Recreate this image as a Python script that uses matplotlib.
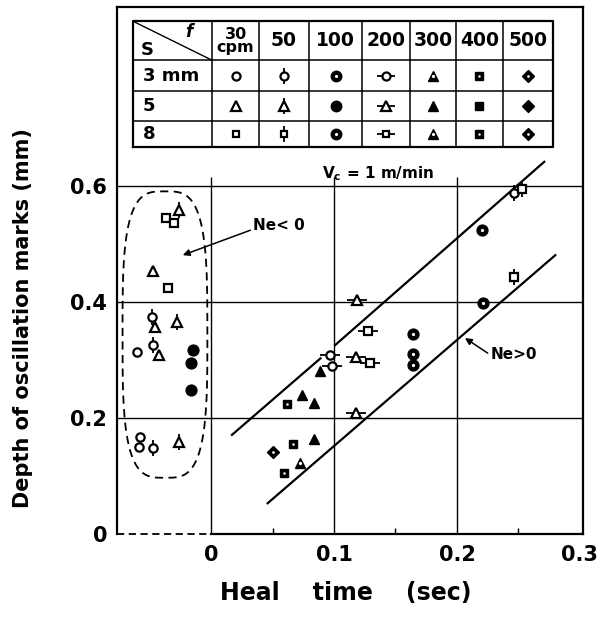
import numpy as np
import matplotlib
matplotlib.use('Agg')
import matplotlib.pyplot as plt

plt.rcParams['font.family'] = 'DejaVu Sans'
plt.rcParams['font.weight'] = 'bold'

# heal time (sec) / depth (mm), grouped by frequency (cpm) and stroke (mm)
t30_s3 = [-0.060, -0.058, -0.059]
d30_s3 = [0.314, 0.167, 0.150]
t30_s5 = [-0.047, -0.046, -0.042]
d30_s5 = [0.453, 0.357, 0.309]
t30_s8 = [-0.037, -0.030, -0.035]
d30_s8 = [0.545, 0.536, 0.424]

t50_s3 = [-0.048, -0.047, -0.047, 0.246]
d50_s3 = [0.374, 0.326, 0.148, 0.588]
t50_s5 = [-0.026, -0.028, -0.026]
d50_s5 = [0.559, 0.366, 0.159]
t50_s8 = [0.253, 0.246]
d50_s8 = [0.595, 0.443]

t100_s5 = [-0.015, -0.016, -0.016]
d100_s5 = [0.317, 0.295, 0.248]
t100_s3 = [0.220, 0.221, 0.164, 0.164, 0.164]
d100_s3 = [0.524, 0.398, 0.345, 0.310, 0.291]

t200_s3 = [0.097, 0.098]
d200_s3 = [0.309, 0.290]
t200_s5 = [0.119, 0.118, 0.118]
d200_s5 = [0.403, 0.305, 0.208]
t200_s8 = [0.128, 0.129]
d200_s8 = [0.350, 0.295]

t300_s5 = [0.089, 0.074, 0.084, 0.084]
d300_s5 = [0.281, 0.240, 0.226, 0.164]
t300_s8 = [0.072]
d300_s8 = [0.122]

t400_s3 = [0.062, 0.067, 0.059]
d400_s3 = [0.224, 0.155, 0.105]

t500_s3 = [0.050]
d500_s3 = [0.141]

# boundary lines (Ne>0 / Ne<0 regions), nan breaks the hand drawn line
upper_t = [0.017, 0.089, np.nan, 0.101, 0.271]
upper_d = [0.171, 0.303, np.nan, 0.326, 0.642]
lower_t = [0.046, 0.280]
lower_d = [0.053, 0.481]

freqs = ['30\ncpm', '50', '100', '200', '300', '400', '500']
strokes = ['3 mm', '5', '8']

series = [
    (t30_s3, d30_s3, 30, 3), (t30_s5, d30_s5, 30, 5), (t30_s8, d30_s8, 30, 8),
    (t50_s3, d50_s3, 50, 3), (t50_s5, d50_s5, 50, 5), (t50_s8, d50_s8, 50, 8),
    (t100_s5, d100_s5, 100, 5), (t100_s3, d100_s3, 100, 3),
    (t200_s3, d200_s3, 200, 3), (t200_s5, d200_s5, 200, 5), (t200_s8, d200_s8, 200, 8),
    (t300_s5, d300_s5, 300, 5), (t300_s8, d300_s8, 300, 8),
    (t400_s3, d400_s3, 400, 3), (t500_s3, d500_s3, 500, 3),
]

shape = {3: 'o', 5: '^', 8: 's'}
solid = {100: 'o', 300: '^', 400: 's', 500: 'D'}


def draw(ax, t, d, f, s, ms=6, transform=None):
    kw = {}
    if transform is not None:
        kw['transform'] = transform
    if f in solid:
        m = solid[f]
        size = ms * {'o': 1.3, '^': 1.3, 's': 1.0, 'D': 1.1}[m]
        ax.plot(t, d, ls='none', marker=m, ms=size, mfc='black', mec='black',
                mew=1.0, zorder=5, clip_on=False, **kw)
        if s != 5:
            ax.plot(t, d, ls='none', marker='o', ms=size * 0.3, mfc='white',
                    mec='white', mew=0, zorder=6, clip_on=False, **kw)
        return
    m = shape[s]
    if f == 50:
        ax.plot(t, d, ls='none', marker='|', ms=ms * 2.0, mew=1.3,
                color='black', zorder=4, clip_on=False, **kw)
    elif f == 200:
        ax.plot(t, d, ls='none', marker='_', ms=ms * 2.3, mew=1.3,
                color='black', zorder=4, clip_on=False, **kw)
    size = ms * {'o': 1.0, 's': 0.85, '^': 1.2}[m]
    ax.plot(t, d, ls='none', marker=m, ms=size, mfc='white', mec='black',
            mew=1.6, zorder=5, clip_on=False, **kw)


fig = plt.figure(figsize=(6.1, 6.18), dpi=100)
ax = fig.add_axes([117 / 610, 1 - 534 / 618, 466 / 610, 527 / 618])
xmin, xmax = -0.0765, 0.3025
ax.set_xlim(xmin, xmax)
ax.set_ylim(0, 0.909)

for sp in ['left', 'right', 'top']:
    ax.spines[sp].set_linewidth(1.6)
ax.spines['bottom'].set_visible(False)
ax.plot([xmin, 0], [0, 0], color='black', lw=1.3, ls=(0, (4, 2.5)), clip_on=False)
ax.plot([0, xmax], [0, 0], color='black', lw=1.6, clip_on=False)

# grid
for yv in [0.2, 0.4, 0.6]:
    ax.axhline(yv, color='black', lw=1.0, zorder=1)
ax.vlines([0, 0.1, 0.2], 0, 0.615, color='black', lw=1.0, zorder=1)

ax.set_xticks([0, 0.1, 0.2, 0.3])
ax.set_xticklabels(['0', '0.1', '0.2', '0.3'])
ax.set_yticks([0, 0.2, 0.4, 0.6])
ax.set_yticklabels(['0', '0.2', '0.4', '0.6'])
ax.set_xticks([0.05, 0.15, 0.25], minor=True)
ax.tick_params(axis='both', which='major', length=0, labelsize=15, pad=8)
ax.tick_params(axis='x', which='minor', direction='in', length=4, width=1)
ax.tick_params(axis='y', which='major', pad=7)

ax.set_xlabel('Heal    time    (sec)', fontsize=17, fontweight='bold')
ax.xaxis.set_label_coords(0.491, -0.090)
ax.set_ylabel('Depth of oscillation marks (mm)', fontsize=15, fontweight='bold')
ax.yaxis.set_label_coords(-0.180, 0.41)

# boundary lines
ax.plot(upper_t, upper_d, color='black', lw=1.6, zorder=3, clip_on=False)
ax.plot(lower_t, lower_d, color='black', lw=1.6, zorder=3)

# data points
for t, d, f, s in series:
    draw(ax, t, d, f, s, ms=6)

# dashed enclosure of Ne<0 points
th = np.linspace(0, 2 * np.pi, 400)
n = 3.4
cx, cy, a, b = -0.0375, 0.344, 0.0345, 0.247
ex = cx + a * np.sign(np.cos(th)) * np.abs(np.cos(th)) ** (2 / n)
ey = cy + b * np.sign(np.sin(th)) * np.abs(np.sin(th)) ** (2 / n)
ax.plot(ex, ey, color='black', lw=1.3, ls=(0, (4.5, 3)), zorder=2)

ax.annotate('', xy=(-0.023, 0.481), xytext=(0.032, 0.524),
            arrowprops=dict(arrowstyle='-|>', lw=1.1, color='black',
                            mutation_scale=10, shrinkA=0, shrinkB=0))
ax.text(0.034, 0.532, 'Ne< 0', fontsize=11, fontweight='bold', va='center')
ax.annotate('', xy=(0.2065, 0.338), xytext=(0.225, 0.312),
            arrowprops=dict(arrowstyle='-|>', lw=1.1, color='black',
                            mutation_scale=10, shrinkA=0, shrinkB=0))
ax.text(0.227, 0.309, 'Ne>0', fontsize=11, fontweight='bold', va='center')

# symbol table (axes fraction)
col_edges = [0.0343, 0.204, 0.305, 0.412, 0.526, 0.629, 0.727, 0.828, 0.936]
row_edges = [0.973, 0.899, 0.841, 0.784, 0.734]
tr = ax.transAxes
x0, x1 = col_edges[0], col_edges[-1]
y0, y1 = row_edges[-1], row_edges[0]
ax.plot([x0, x1, x1, x0, x0], [y0, y0, y1, y1, y0], color='black', lw=1.6,
        transform=tr, zorder=6)
for xe in col_edges[1:-1]:
    ax.plot([xe, xe], [y0, y1], color='black', lw=1.1, transform=tr, zorder=6)
for ye in row_edges[1:-1]:
    ax.plot([x0, x1], [ye, ye], color='black', lw=1.1, transform=tr, zorder=6)
ax.plot([col_edges[0], col_edges[1]], [row_edges[0], row_edges[1]],
        color='black', lw=1.0, transform=tr, zorder=6)
ax.text(0.155, 0.952, 'f', fontsize=12, fontweight='bold', transform=tr,
        ha='center', va='center', style='italic')
ax.text(0.065, 0.918, 'S', fontsize=13, fontweight='bold', transform=tr,
        ha='center', va='center')

for i, lab in enumerate(freqs):
    xc = (col_edges[i + 1] + col_edges[i + 2]) / 2
    yc = (row_edges[0] + row_edges[1]) / 2
    if '\n' in lab:
        ax.text(xc, yc, lab, fontsize=11.5, fontweight='bold', transform=tr,
                ha='center', va='center', linespacing=0.8)
    else:
        ax.text(xc, yc, lab, fontsize=13.5, fontweight='bold', transform=tr,
                ha='center', va='center')

fvals = [30, 50, 100, 200, 300, 400, 500]
svals = [3, 5, 8]
for j, lab in enumerate(strokes):
    yc = (row_edges[j + 1] + row_edges[j + 2]) / 2
    ax.text(0.055, yc, lab, fontsize=13, fontweight='bold', transform=tr,
            ha='left', va='center')
    for i, f in enumerate(fvals):
        xc = (col_edges[i + 1] + col_edges[i + 2]) / 2
        draw(ax, [xc], [yc], f, svals[j], ms=5.8, transform=tr)

ax.text(0.56, 0.684, r'$\mathbf{V_c}$ = 1 m/min', fontsize=11, fontweight='bold',
        transform=tr, ha='center', va='center')

fig.savefig('out.png', dpi=100)
